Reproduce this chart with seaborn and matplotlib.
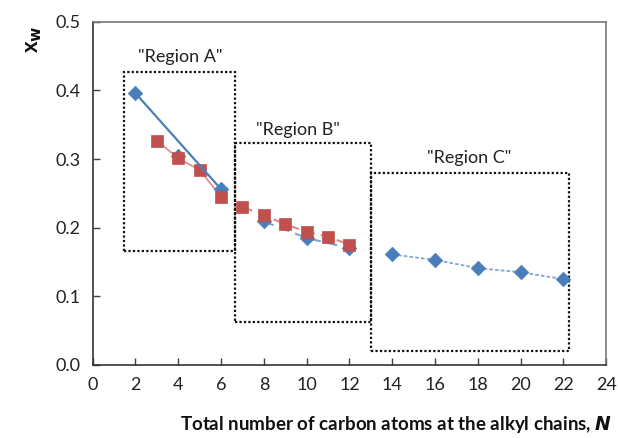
import matplotlib
matplotlib.use("Agg")
import matplotlib.pyplot as plt
import seaborn as sns
import pandas as pd
from matplotlib.patches import Rectangle

sns.set_theme(style="white")
plt.rcParams['font.family'] = ['Lato', 'DejaVu Sans']

# Data
blue_n = [2, 4, 6, 8, 10, 12, 14, 16, 18, 20, 22]
blue_x = [0.396, 0.305, 0.256, 0.209, 0.185, 0.170, 0.161, 0.153, 0.141, 0.135, 0.125]
red_n = [3, 4, 5, 6, 7, 8, 9, 10, 11, 12]
red_x = [0.327, 0.301, 0.284, 0.245, 0.230, 0.218, 0.205, 0.194, 0.187, 0.175]

regions = ["\"Region A\"", "\"Region B\"", "\"Region C\""]
x_ticks = list(range(0, 25, 2))
y_ticks = [0.0, 0.1, 0.2, 0.3, 0.4, 0.5]

blue = "#4A7EBB"
red = "#C0504D"

df_blue = pd.DataFrame({"N": blue_n, "xw": blue_x})
df_red = pd.DataFrame({"N": red_n, "xw": red_x})

fig = plt.figure(figsize=(6.18, 4.38), dpi=100)
ax = fig.add_axes([0.150, 0.167, 0.831, 0.783])

# Region lines
bA = df_blue[df_blue.N.isin([2, 6])]
bB = df_blue[(df_blue.N >= 8) & (df_blue.N <= 12)]
bC = df_blue[(df_blue.N >= 14)]
rA = df_red[(df_red.N <= 6)]
rB = df_red[(df_red.N >= 7)]

sns.lineplot(data=rA, x="N", y="xw", ax=ax, color="#E08A88", lw=1.2, zorder=2)
sns.lineplot(data=rB, x="N", y="xw", ax=ax, color="#E08A88", lw=1.5, linestyle=(0, (5, 3)), zorder=2)
sns.lineplot(data=bB, x="N", y="xw", ax=ax, color="#7FA6D6", lw=1.5, linestyle=(0, (5, 3)), zorder=2)
sns.lineplot(data=bC, x="N", y="xw", ax=ax, color="#7FA6D6", lw=1.3, linestyle=(0, (2, 1.2)), zorder=2)

sns.scatterplot(data=df_blue, x="N", y="xw", ax=ax, marker="D", s=55, color=blue,
                edgecolor=blue, linewidth=0.5, zorder=3)
sns.scatterplot(data=df_red, x="N", y="xw", ax=ax, marker="s", s=80, color=red,
                edgecolor=red, linewidth=0.5, zorder=4)
sns.lineplot(data=bA, x="N", y="xw", ax=ax, color=blue, lw=1.6, zorder=5)

# Region boxes
boxes = [(1.46, 0.166, 6.67, 0.427), (6.67, 0.063, 13.0, 0.324), (13.0, 0.020, 22.25, 0.280)]
label_pos = [(4.1, 0.449), (9.6, 0.343), (17.6, 0.302)]
for (x0, y0, x1, y1), lab, (lx, ly) in zip(boxes, regions, label_pos):
    ax.add_patch(Rectangle((x0, y0), x1 - x0, y1 - y0, fill=False, ec="#111111",
                           lw=1.6, linestyle=(0, (1, 1)), zorder=1))
    ax.text(lx, ly, lab, ha="center", va="center", fontsize=13, color="#222222")

ax.set_xlim(0, 24)
ax.set_ylim(0, 0.5)
ax.set_xticks(x_ticks)
ax.set_xticklabels([str(t) for t in x_ticks])
ax.set_yticks(y_ticks)
ax.set_yticklabels([f"{t:.1f}" for t in y_ticks])
ax.tick_params(direction="in", length=5, width=1, colors="#404040",
               labelcolor="#222222", labelsize=13, pad=9, bottom=True, left=True)
for s in ["left", "bottom"]:
    ax.spines[s].set_color("#333333")
    ax.spines[s].set_linewidth(1.2)
for s in ["top", "right"]:
    ax.spines[s].set_color("#777777")
    ax.spines[s].set_linewidth(1.2)

ax.set_xlabel("")
ax.set_ylabel("")
fig.text(0.99, 0.03, "Total number of carbon atoms at the alkyl chains, $\\boldsymbol{N}$",
         ha="right", va="center", fontsize=13.5, fontweight="bold", color="#111111")
fig.text(0.055, 0.91, "x$_\\mathbf{w}$", rotation=90, ha="center", va="center",
         fontsize=16, fontweight="bold", color="#111111")

fig.savefig("out.png", dpi=100)
